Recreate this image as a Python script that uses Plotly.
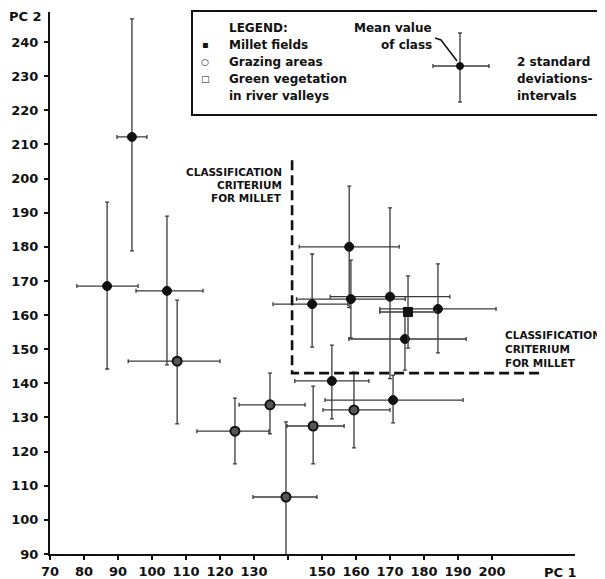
import plotly.graph_objects as go

# ---------------- data ----------------
# Millet fields
millet_x = [94.1, 86.8, 104.4, 158.0, 158.5, 170.0, 147.1, 184.1, 174.4, 170.9, 152.9]
millet_y = [212.2, 168.5, 167.1, 180.0, 164.7, 165.4, 163.2, 161.8, 153.0, 135.1, 140.7]
millet_ex_plus = [4.4, 9.1, 10.6, 14.7, 16.0, 17.6, 10.5, 17.1, 18.0, 20.6, 10.9]
millet_ex_minus = [4.4, 8.9, 9.1, 14.7, 16.0, 17.6, 11.5, 17.1, 16.5, 20.0, 10.9]
millet_ey_plus = [34.6, 24.6, 21.9, 17.8, 11.4, 26.0, 14.7, 13.2, 9.1, 7.3, 10.5]
millet_ey_minus = [33.4, 24.3, 21.7, 17.8, 11.4, 24.0, 12.6, 12.9, 9.1, 6.7, 11.1]

# Grazing areas
grazing_x = [107.4, 124.4, 134.7, 139.4, 147.4, 159.4]
grazing_y = [146.5, 126.0, 133.7, 106.7, 127.5, 132.2]
grazing_ex_plus = [12.6, 10.0, 10.3, 9.1, 9.1, 10.6]
grazing_ex_minus = [14.4, 11.2, 9.1, 9.7, 7.7, 9.1]
grazing_ey_plus = [17.9, 9.7, 9.3, 22.0, 11.7, 11.1]
grazing_ey_minus = [18.4, 9.6, 8.5, 22.9, 11.1, 11.1]

# Green vegetation in river valleys
green_x = [175.3]
green_y = [160.9]
green_ex = [8.3]
green_ey = [10.6]

# Classification criterion for millet
crit_x = 141.2
crit_y = 143.0
crit_top = 205.4
crit_right = 214.7

x_ticks = [70, 80, 90, 100, 110, 120, 130, 140, 150, 160, 170, 180, 190, 200]
x_ticktext = ["70", "80", "90", "100", "110", "120", "130", "", "150", "160", "170", "180", "190", "200"]
y_ticks = [90, 100, 110, 120, 130, 140, 150, 160, 170, 180, 190, 200, 210, 220, 230, 240]

# ---------------- layout helpers ----------------
# the page body has an 8px margin, so the figure is drawn 8px smaller and offset
OFF = 8
W, H = 605 - OFF, 579 - OFF
ML, MT = 50 - OFF, 12 - OFF
MR, MB = W - (575 - OFF), H - (554 - OFF)
PW, PH = W - ML - MR, H - MT - MB


def px(xp):
    """reference screen x pixel -> paper coordinate"""
    return (xp - OFF - ML) / PW


def py(yp):
    """reference screen y pixel -> paper coordinate"""
    return (H - MB - (yp - OFF)) / PH


FONT = "DejaVu Sans"
ERR = dict(color="#3a3a3a", thickness=1.3, width=2)

fig = go.Figure()


def add(xs, ys, exp, exm, eyp, eym, marker):
    fig.add_trace(go.Scatter(
        x=xs, y=ys, mode="markers", cliponaxis=False, showlegend=False,
        marker=marker,
        error_x=dict(type="data", array=exp, arrayminus=exm, symmetric=False, **ERR),
        error_y=dict(type="data", array=eyp, arrayminus=eym, symmetric=False, **ERR),
    ))


add(millet_x, millet_y, millet_ex_plus, millet_ex_minus, millet_ey_plus, millet_ey_minus,
    dict(symbol="circle", size=9, color="#111", line=dict(color="#111", width=1)))
add(grazing_x, grazing_y, grazing_ex_plus, grazing_ex_minus, grazing_ey_plus, grazing_ey_minus,
    dict(symbol="circle", size=9, color="#555", line=dict(color="#111", width=2)))
add(green_x, green_y, green_ex, green_ex, green_ey, green_ey,
    dict(symbol="square", size=9, color="#111", line=dict(color="#111", width=1)))

# criterion dashed line
fig.add_trace(go.Scatter(
    x=[crit_x, crit_x, crit_right], y=[crit_top, crit_y, crit_y],
    mode="lines", showlegend=False, hoverinfo="skip", cliponaxis=False,
    line=dict(color="#111", width=2.6, dash="10px,5px"),
))

shapes = []
annotations = []

# legend box
shapes.append(dict(type="rect", xref="paper", yref="paper",
                   x0=px(192), x1=px(600), y0=py(115), y1=py(11),
                   line=dict(color="#111", width=2)))


def txt(x, y, s, size=12, anchor="left", bold=True):
    annotations.append(dict(
        xref="paper", yref="paper", x=px(x), y=py(y), text=(f"<b>{s}</b>" if bold else s),
        showarrow=False, xanchor=anchor, yanchor="middle", borderpad=0,
        font=dict(family=FONT, size=size, color="#111"),
    ))


txt(228, 28, "LEGEND:", 12)
txt(228, 45, "Millet fields", 12)
txt(228, 62, "Grazing areas", 12)
txt(228, 79, "Green vegetation", 12)
txt(228, 96, "in river valleys", 12)
txt(205, 45, "▪", 10, "center")
txt(205, 62, "○", 9, "center")
txt(205, 79, "□", 9, "center")

txt(433, 28, "Mean value", 12, "right")
txt(433, 45, "of class", 12, "right")
txt(516, 62, "2 standard", 12)
txt(516, 79, "deviations-", 12)
txt(516, 96, "intervals", 12)

# legend sample cross
LC = dict(color="#3a3a3a", width=1.3)
for (a, b, c, d) in [(460, 460, 33, 102), (433, 489, 66, 66),
                     (458, 462, 33, 33), (458, 462, 102, 102),
                     (433, 433, 64, 68), (489, 489, 64, 68)]:
    shapes.append(dict(type="line", xref="paper", yref="paper",
                       x0=px(a), x1=px(b), y0=py(c), y1=py(d), line=LC))
shapes.append(dict(type="circle", xref="paper", yref="paper",
                   x0=px(456.5), x1=px(463.5), y0=py(69.5), y1=py(62.5),
                   fillcolor="#111", line=dict(color="#111", width=1)))
# pointer
shapes.append(dict(type="path", xref="paper", yref="paper",
                   path=f"M {px(435)} {py(38)} L {px(441)} {py(40)} L {px(457)} {py(61)}",
                   line=dict(color="#111", width=1.5)))

# classification texts
for i, s in enumerate(["CLASSIFICATION", "CRITERIUM", "FOR MILLET"]):
    txt(283, 172 + 13 * i, s, 10.5, "right")
    txt(504, 335 + 14 * i, s, 10.5, "left")

# axis titles
txt(25, 17, "PC 2", 13, "center")
txt(560, 572, "PC 1", 13, "center")

fig.update_layout(
    width=W, height=H,
    margin=dict(l=ML, r=MR, t=MT, b=MB, autoexpand=False),
    paper_bgcolor="white", plot_bgcolor="white",
    shapes=shapes, annotations=annotations,
    font=dict(family=FONT, size=13, color="#111"),
    xaxis=dict(range=[70, 70 + PW / 3.4], tickvals=x_ticks, ticktext=x_ticktext,
               automargin=False,
               showgrid=False, zeroline=False, showline=True, linecolor="#111", linewidth=2,
               ticks="outside", ticklen=4, tickwidth=1.5, tickcolor="#111",
               tickfont=dict(family=FONT, size=13, color="#111", weight="bold")),
    yaxis=dict(range=[90, 90 + PH / 3.413], tickvals=y_ticks,
               automargin=False, ticklabelstandoff=3,
               showgrid=False, zeroline=False, showline=True, linecolor="#111", linewidth=2,
               ticks="outside", ticklen=4, tickwidth=1.5, tickcolor="#111",
               tickfont=dict(family=FONT, size=13, color="#111", weight="bold")),
)

fig.write_html("out.html")
